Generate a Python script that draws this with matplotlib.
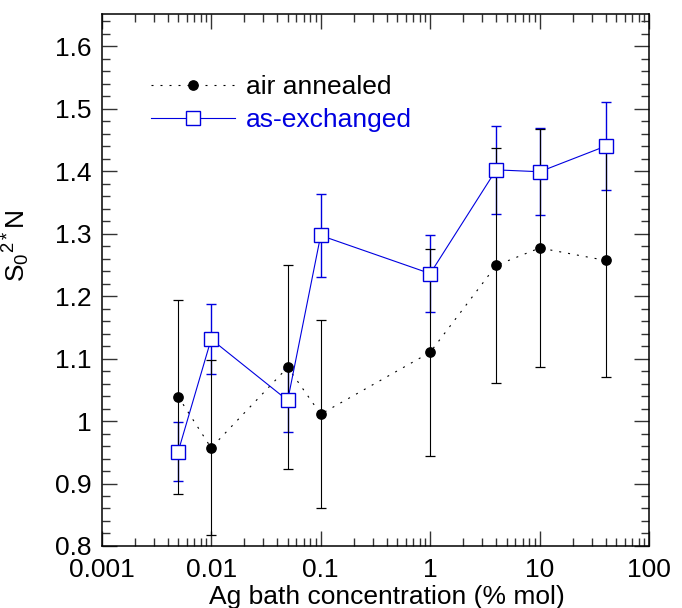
import numpy as np
import matplotlib
matplotlib.use("Agg")
import matplotlib.pyplot as plt
from matplotlib.ticker import FixedLocator, LogLocator, MultipleLocator, FuncFormatter

plt.rcParams['font.family'] = ['Liberation Sans', 'DejaVu Sans']
plt.rcParams['mathtext.fontset'] = 'custom'
plt.rcParams['mathtext.rm'] = 'Liberation Sans'
plt.rcParams['mathtext.it'] = 'Liberation Sans'
plt.rcParams['mathtext.default'] = 'regular'

# Ag bath concentration (% mol)
conc = [0.005, 0.01, 0.05, 0.1, 1, 4, 10, 40]

# air annealed
air_val = [1.039, 0.957, 1.086, 1.011, 1.110, 1.249, 1.277, 1.257]
air_err = [0.155, 0.140, 0.163, 0.151, 0.166, 0.188, 0.190, 0.186]

# as-exchanged
exch_val = [0.951, 1.131, 1.033, 1.297, 1.236, 1.402, 1.399, 1.440]
exch_err = [0.047, 0.056, 0.051, 0.066, 0.062, 0.070, 0.070, 0.071]

x_ticks = [0.001, 0.01, 0.1, 1, 10, 100]
y_ticks = [0.8, 0.9, 1.0, 1.1, 1.2, 1.3, 1.4, 1.5, 1.6]

blue = '#0000e0'

fig = plt.figure(figsize=(6.82, 6.08), dpi=100)
ax = fig.add_axes([0.149, 0.102, 0.803, 0.8745])

# error bars
ax.errorbar(conc, exch_val, yerr=exch_err, fmt='none', ecolor=blue,
            elinewidth=1.0, capsize=3.6, capthick=1.0, zorder=2)
ax.errorbar(conc, air_val, yerr=air_err, fmt='none', ecolor='black',
            elinewidth=0.8, capsize=3.6, capthick=0.9, zorder=2)

# series
ax.plot(conc, air_val, color='black', linewidth=0.8, dashes=(1.8, 6.3),
        marker='o', markersize=6.7, markerfacecolor='black',
        markeredgecolor='black', label='air annealed', zorder=3)
ax.plot(conc, exch_val, color=blue, linewidth=0.8, linestyle='-',
        marker='s', markersize=10.5, markerfacecolor='white',
        markeredgecolor=blue, markeredgewidth=1.0,
        label='as-exchanged', zorder=4)

ax.set_xscale('log')
ax.set_xlim(0.001, 100)
ax.set_ylim(0.8, 1.651)

ax.xaxis.set_major_locator(FixedLocator(x_ticks))
ax.xaxis.set_minor_locator(LogLocator(base=10, subs=np.arange(2, 10)))
ax.xaxis.set_major_formatter(FuncFormatter(lambda v, p: '%g' % v))
ax.yaxis.set_major_locator(FixedLocator(y_ticks))
ax.yaxis.set_minor_locator(MultipleLocator(0.02))
ax.yaxis.set_major_formatter(FuncFormatter(lambda v, p: '%g' % round(v, 2)))

ax.tick_params(which='both', direction='in', top=True, right=True,
               labelsize=19, width=1.0, color='#333333')
ax.tick_params(axis='y', pad=7.5)
ax.tick_params(axis='x', pad=8.5)
ax.tick_params(which='major', length=10.5)
ax.tick_params(which='minor', length=5.8)
for sp in ax.spines.values():
    sp.set_linewidth(1.1)

ax.set_xlabel('Ag bath concentration (% mol)', fontsize=19)
ax.xaxis.set_label_coords(0.521, -0.073)
ax.xaxis.label.set_va('top')
ax.set_ylabel(r'S$_0$$^{2*}$N', fontsize=19)
ax.yaxis.set_label_coords(-0.127, 0.564)

ax.legend(loc='upper left', bbox_to_anchor=(0.09, 0.885), frameon=False,
          fontsize=19, handlelength=3.2, handletextpad=0.4,
          labelspacing=0.32, borderpad=0, borderaxespad=0,
          labelcolor=['black', blue])

fig.savefig('out.png', dpi=100)
